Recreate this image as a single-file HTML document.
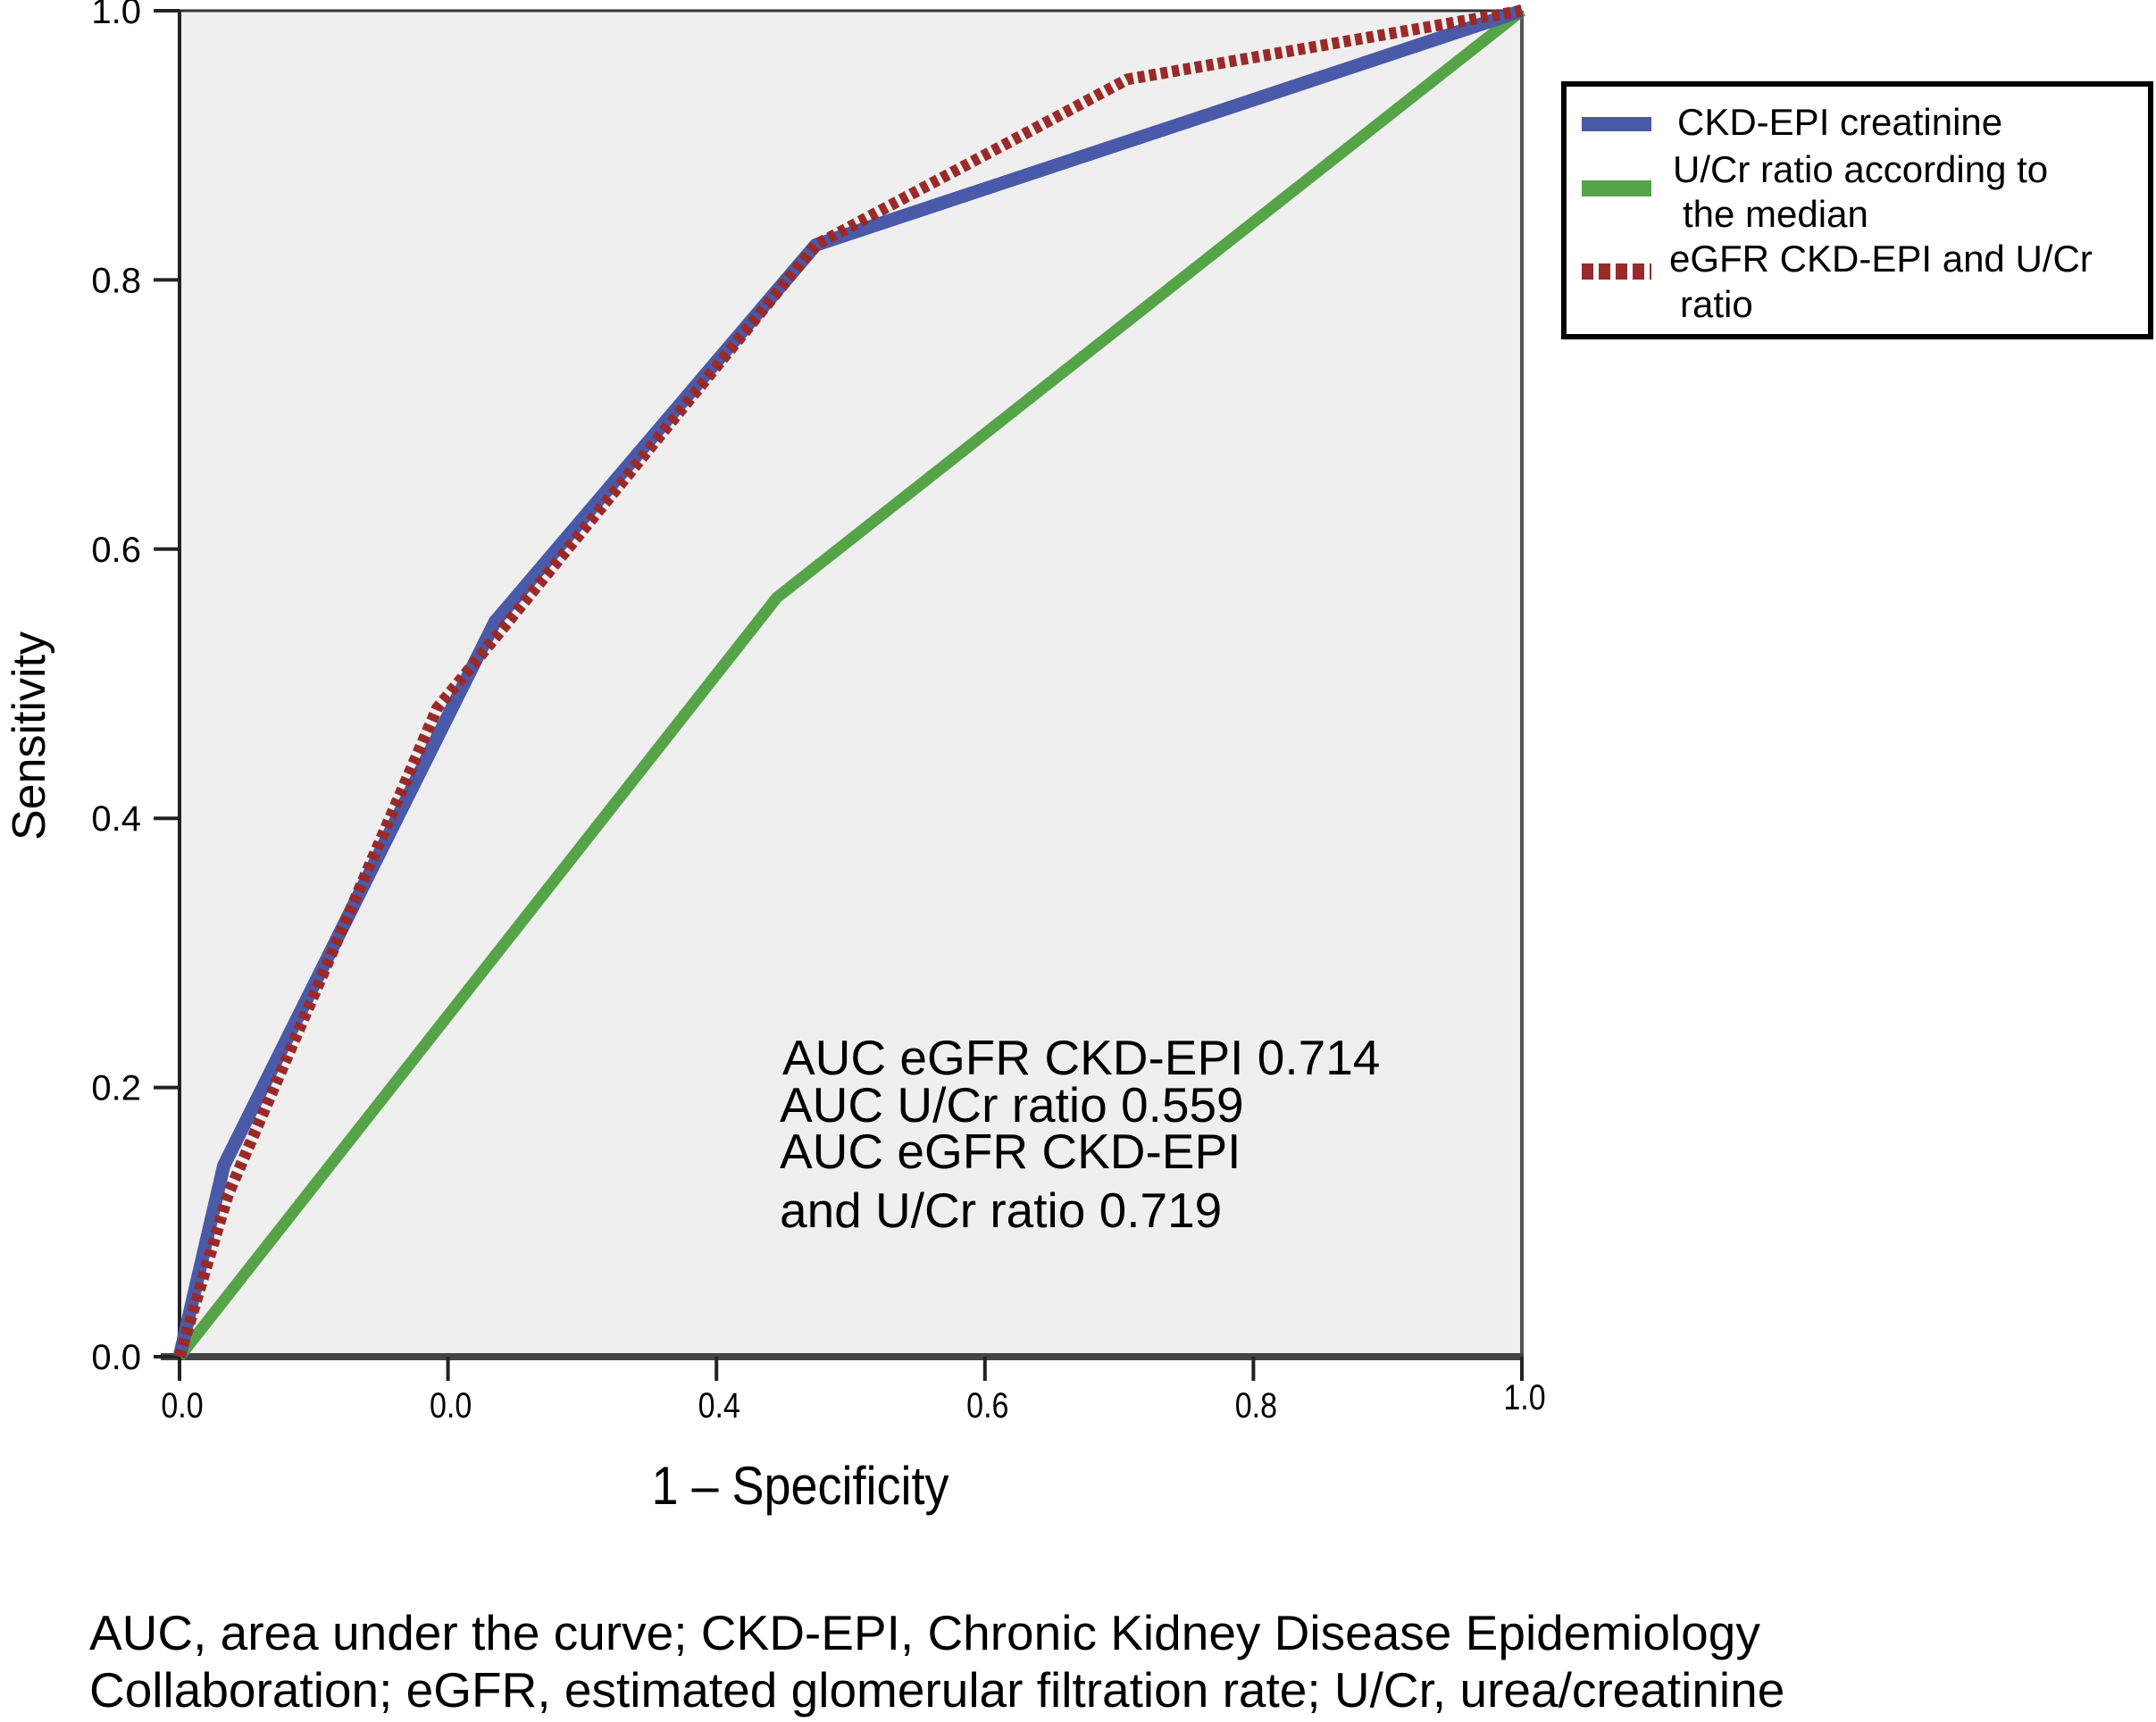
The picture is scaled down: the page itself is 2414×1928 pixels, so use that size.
<!DOCTYPE html>
<html><head><meta charset="utf-8"><style>
html,body{margin:0;padding:0;background:#fff}
svg{display:block}
text{font-family:"Liberation Sans",sans-serif;fill:#000}
</style></head><body>
<svg width="2414" height="1928" viewBox="0 0 2414 1928">
<rect x="200" y="12" width="1504" height="1507" fill="#efefef"/>
<line x1="200" y1="12" x2="1704" y2="12" stroke="#333" stroke-width="3"/>
<line x1="1704" y1="12" x2="1704" y2="1519" stroke="#555" stroke-width="4"/>
<line x1="201" y1="12" x2="201" y2="1535" stroke="#222" stroke-width="4"/>
<line x1="180" y1="1519" x2="1706" y2="1519" stroke="#444" stroke-width="8"/>
<g id="yticks"></g>
<g id="xticks"></g>
<g id="series"></g>
<text transform="translate(50,824) rotate(-90)" text-anchor="middle" font-size="52">Sensitivity</text>
<text x="896" y="1684" text-anchor="middle" font-size="60" transform="translate(896,0) scale(0.9,1) translate(-896,0)">1 – Specificity</text>
<g font-size="55">
<text x="876" y="1203">AUC eGFR CKD-EPI 0.714</text>
<text x="873" y="1256">AUC U/Cr ratio 0.559</text>
<text x="873" y="1308">AUC eGFR CKD-EPI</text>
<text x="873" y="1374">and U/Cr ratio 0.719</text>
</g>
<g>
<rect x="1751" y="94" width="657" height="283" fill="#fff" stroke="#000" stroke-width="6"/>
<rect x="1771" y="131" width="78" height="16" fill="#4a59a8"/>
<text x="1878" y="151" font-size="42">CKD-EPI creatinine</text>
<rect x="1771" y="202" width="78" height="18" fill="#55a447"/>
<text x="1873" y="204" font-size="42">U/Cr ratio according to</text>
<text x="1884" y="254" font-size="42">the median</text>
<line x1="1771" y1="304" x2="1849" y2="304" stroke="#9a2a2a" stroke-width="18" stroke-dasharray="13,6"/>
<text x="1869" y="304" font-size="42">eGFR CKD-EPI and U/Cr</text>
<text x="1881" y="355" font-size="42">ratio</text>
</g>
<g font-size="55">
<text x="100" y="1847">AUC, area under the curve; CKD-EPI, Chronic Kidney Disease Epidemiology</text>
<text x="100" y="1911">Collaboration; eGFR, estimated glomerular filtration rate; U/Cr, urea/creatinine</text>
</g>
</svg>
<script>
const yTickValues=[0,0.2,0.4,0.6,0.8,1.0];
const yTickLabels=["0.0","0.2","0.4","0.6","0.8","1.0"];
const xTickValues=[0,0.2,0.4,0.6,0.8,1.0];
const xTickLabels=["0.0","0.0","0.4","0.6","0.8","1.0"];
const ckdX=[0,0.033,0.235,0.474,1];
const ckdY=[0,0.142,0.546,0.826,1];
const ucrX=[0,0.445,1];
const ucrY=[0,0.564,1];
const combX=[0,0.036,0.192,0.235,0.474,0.706,1];
const combY=[0,0.12,0.482,0.534,0.826,0.949,1];

const NS="http://www.w3.org/2000/svg";
const X0=201,X1=1704,Y0=1519,Y1=12;
const sx=v=>X0+v*(X1-X0);
const sy=v=>Y0-v*(Y0-Y1);
const yt=document.getElementById('yticks');
yTickValues.forEach((v,i)=>{
  const l=document.createElementNS(NS,'line');
  
  
  l.setAttribute('x1',172);l.setAttribute('x2',201);
  l.setAttribute('y1',sy(v));l.setAttribute('y2',sy(v));
  l.setAttribute('stroke','#222');l.setAttribute('stroke-width',4);
  yt.appendChild(l);
  const t=document.createElementNS(NS,'text');
  
  
  t.setAttribute('x',158);t.setAttribute('y',sy(v)+14);
  t.setAttribute('text-anchor','end');t.setAttribute('font-size',40);
  t.textContent=yTickLabels[i];
  yt.appendChild(t);
});
const xt=document.getElementById('xticks');
xTickValues.forEach((v,i)=>{
  const l=document.createElementNS(NS,'line');
  
  
  l.setAttribute('x1',sx(v));l.setAttribute('x2',sx(v));
  l.setAttribute('y1',1519);l.setAttribute('y2',1546);
  l.setAttribute('stroke','#222');l.setAttribute('stroke-width',4);
  xt.appendChild(l);
  const t=document.createElementNS(NS,'text');
  
  
  t.setAttribute('x',sx(v)+3);t.setAttribute('y',i==5?1578:1587);
  t.setAttribute('text-anchor','middle');t.setAttribute('font-size',40);
  t.setAttribute('transform','translate('+(sx(v)+3)+',0) scale(0.85,1) translate('+(-(sx(v)+3))+',0)');
  t.textContent=xTickLabels[i];
  xt.appendChild(t);
});
const sg=document.getElementById('series');
function poly(xs,ys,name,color,w,dash){
  const p=document.createElementNS(NS,'polyline');
  
  
  p.setAttribute('points',xs.map((x,i)=>sx(x)+','+sy(ys[i])).join(' '));
  p.setAttribute('fill','none');p.setAttribute('stroke',color);
  p.setAttribute('stroke-width',w);p.setAttribute('stroke-linejoin','round');
  if(dash)p.setAttribute('stroke-dasharray',dash);
  sg.appendChild(p);
}
poly(ucrX,ucrY,'ucr-ratio-line','#55a447',13);
poly(ckdX,ckdY,'ckd-epi-line','#4a59a8',15);
poly(combX,combY,'combined-line','#9a2a2a',13,'8,5');
</script>
</body></html>
